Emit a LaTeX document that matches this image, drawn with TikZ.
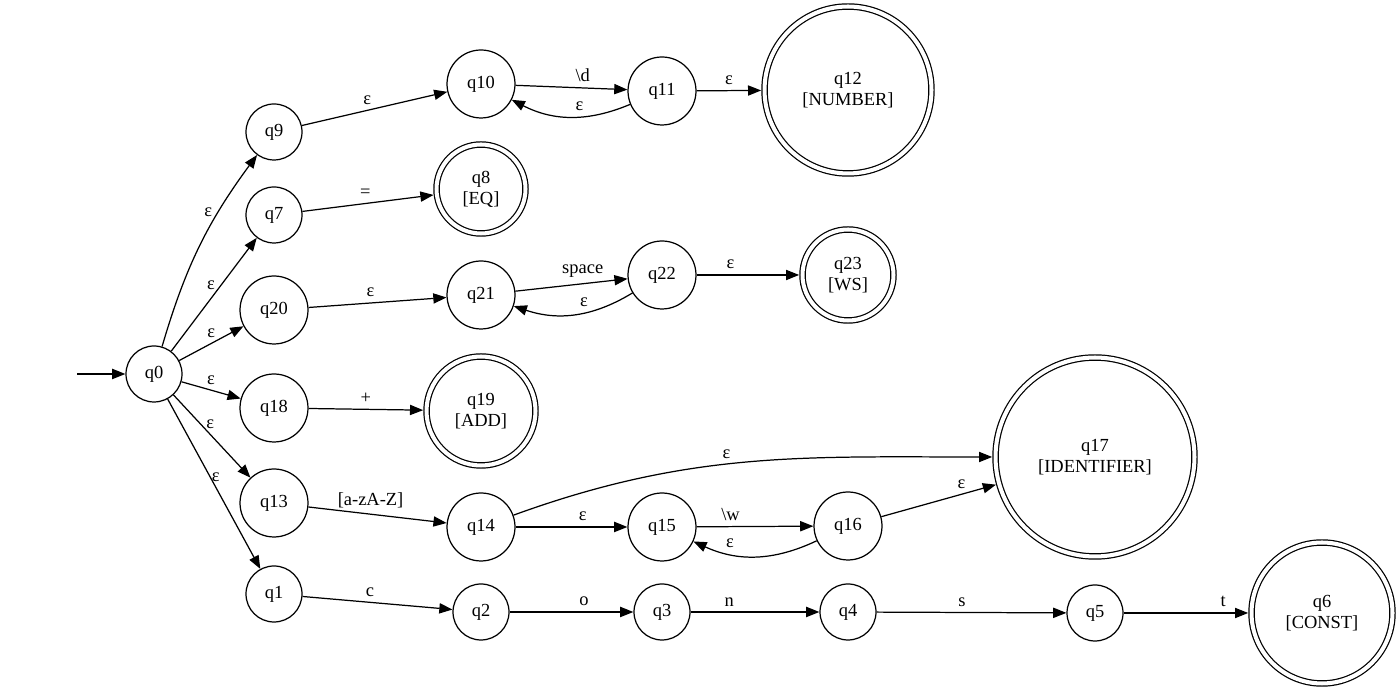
\documentclass[tikz,border=0pt]{standalone}
\usepackage{fontspec}
\setmainfont{Liberation Serif}
\usetikzlibrary{arrows.meta}

\begin{document}
\begin{tikzpicture}[x=0.02cm,y=0.02cm,line width=0.7pt,font=\fontsize{10.5}{12}\selectfont,
  >={Triangle[length=7.5pt,width=5.8pt]},
  qstate/.style={circle,draw=black,minimum size=1.12cm,inner sep=0pt},
  qwide/.style={qstate,minimum size=1.36cm},
  qaccept/.style={circle,draw=black,double,double distance=2.3pt,align=center,inner sep=0pt,outer sep=1.9pt},
  lbl/.style={inner sep=3pt}]

\useasboundingbox (0,0) rectangle (1400,692);

\node[qstate] (q0) at (154,318) {q0};
\node[qstate] (q9) at (274,560) {q9};
\node[qstate] (q7) at (274,477) {q7};
\node[qwide] (q20) at (274,382) {q20};
\node[qwide] (q18) at (274,284) {q18};
\node[qwide] (q13) at (274,189) {q13};
\node[qstate] (q1) at (274,98) {q1};
\node[qwide] (q10) at (481,608) {q10};
\node[qaccept,minimum size=1.78cm] (q8) at (481,503) {q8\\{[EQ]}};
\node[qwide] (q21) at (481,397) {q21};
\node[qaccept,minimum size=2.18cm] (q19) at (481,281) {q19\\{[ADD]}};
\node[qwide] (q14) at (481,165) {q14};
\node[qstate] (q2) at (481,80) {q2};
\node[qwide] (q11) at (662,601) {q11};
\node[qwide] (q22) at (662,417) {q22};
\node[qwide] (q15) at (662,165) {q15};
\node[qstate] (q3) at (662,80) {q3};
\node[qaccept,minimum size=3.34cm] (q12) at (848,602) {q12\\{[NUMBER]}};
\node[qaccept,minimum size=1.82cm] (q23) at (848,417) {q23\\{[WS]}};
\node[qwide] (q16) at (848,166) {q16};
\node[qstate] (q4) at (848,80) {q4};
\node[qaccept,minimum size=3.98cm] (q17) at (1095,235) {q17\\{[IDENTIFIER]}};
\node[qstate] (q5) at (1095,79) {q5};
\node[qaccept,minimum size=2.82cm] (q6) at (1322,79) {q6\\{[CONST]}};
\coordinate (start) at (77,318);

\draw[->] (start) -- (q0);
\draw[->] (q0) to[bend left=10] node[lbl,pos=.69,left] {ε} (q9);
\draw[->] (q0) -- node[lbl,pos=.58,left] {ε} (q7);
\draw[->] (q0) -- node[lbl,pos=.5,above] {ε} (q20);
\draw[->] (q0) -- node[lbl,pos=.5,above] {ε} (q18);
\draw[->] (q0) -- node[lbl,pos=.35,right] {ε} (q13);
\draw[->] (q0) -- node[lbl,pos=.46,right,inner sep=0.5pt] {ε} (q1);

\draw[->] (q9) -- node[lbl,pos=.45,above] {ε} (q10);
\draw[->] (q7) -- node[lbl,pos=.48,above] {=} (q8);
\draw[->] (q20) -- node[lbl,pos=.45,above] {ε} (q21);
\draw[->] (q18) -- node[lbl,pos=.5,above] {+} (q19);
\draw[->] (q13) -- node[lbl,pos=.45,above] {[a-zA-Z]} (q14);
\draw[->] (q1) -- node[lbl,pos=.45,above] {c} (q2);

\draw[->] (q10) -- node[lbl,pos=.6,above] {\textbackslash d} (q11);
\draw[->] (q11) to[bend left=25] node[lbl,pos=.42,above] {ε} (q10);
\draw[->] (q11) -- node[lbl,above] {ε} (q12);
\draw[->] (q21) -- node[lbl,pos=.6,above] {space} (q22);
\draw[->] (q22) to[bend left=25] node[lbl,pos=.42,above] {ε} (q21);
\draw[->] (q22) -- node[lbl,pos=.33,above] {ε} (q23);
\draw[->] (q14) to[out=20,in=180] node[lbl,pos=.45,above] {ε} (q17);
\draw[->] (q14) -- node[lbl,pos=.6,above] {ε} (q15);
\draw[->] (q15) -- node[lbl,pos=.29,above] {\textbackslash w} (q16);
\draw[->] (q16) to[bend left=25] node[lbl,pos=.71,above] {ε} (q15);
\draw[->] (q16) -- node[lbl,pos=.7,above] {ε} (q17);
\draw[->] (q2) -- node[lbl,pos=.6,above] {o} (q3);
\draw[->] (q3) -- node[lbl,pos=.3,above] {n} (q4);
\draw[->] (q4) -- node[lbl,pos=.45,above] {s} (q5);
\draw[->] (q5) -- node[lbl,pos=.8,above] {t} (q6);
\end{tikzpicture}
\end{document}
